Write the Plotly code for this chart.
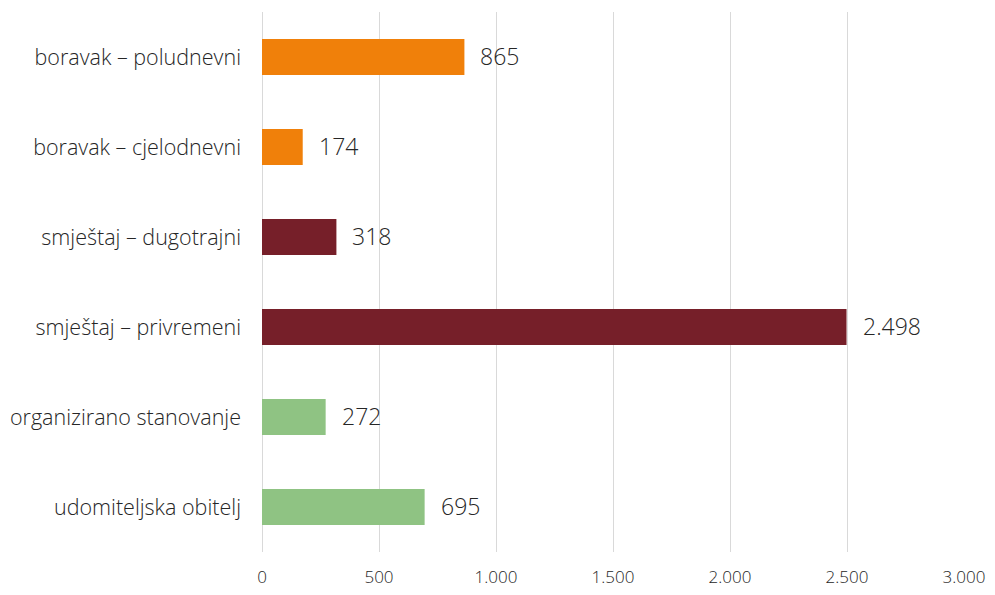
import plotly.graph_objects as go

categories = ['boravak – poludnevni', 'boravak – cjelodnevni', 'smještaj – dugotrajni',
              'smještaj – privremeni', 'organizirano stanovanje', 'udomiteljska obitelj']
values = [865, 174, 318, 2498, 272, 695]
colors = ['#F0800A', '#F0800A', '#761F29', '#761F29', '#8FC383', '#8FC383']
tick_vals = [0, 500, 1000, 1500, 2000, 2500, 3000]

label_font = dict(family='Open Sans', color='#262626', weight=300)

fig = go.Figure()
fig.add_trace(go.Bar(
    y=categories, x=values, orientation='h',
    marker=dict(color=colors, line=dict(width=0)),
    width=0.4,
))

# value labels, a little off the bar end
for cat, v in zip(categories, values):
    fig.add_annotation(x=v, y=cat, text=f'{v:,}'.replace(',', '.'), showarrow=False,
                       xanchor='left', xshift=14, yshift=1,
                       font=dict(label_font, size=23))

# page body has an 8px margin, so the figure is drawn a bit smaller
fig.update_layout(
    width=979, height=579,
    margin=dict(l=254, r=23, t=4, b=35),
    paper_bgcolor='white', plot_bgcolor='white',
    separators=',.',
    showlegend=False,
    font=label_font,
    xaxis=dict(range=[0, 3000], tickvals=tick_vals, tickformat=',d', automargin=False,
               showgrid=True, gridcolor='#D9D9D9', gridwidth=1,
               zeroline=True, zerolinecolor='#D9D9D9', zerolinewidth=1,
               showline=False, ticks='', tickfont=dict(label_font, size=17), ticklabelstandoff=13),
    yaxis=dict(autorange='reversed', showgrid=False, ticks='', showline=False, automargin=False,
               tickfont=dict(label_font, size=21.5), ticklabelstandoff=20),
)

fig.write_html('out.html')
